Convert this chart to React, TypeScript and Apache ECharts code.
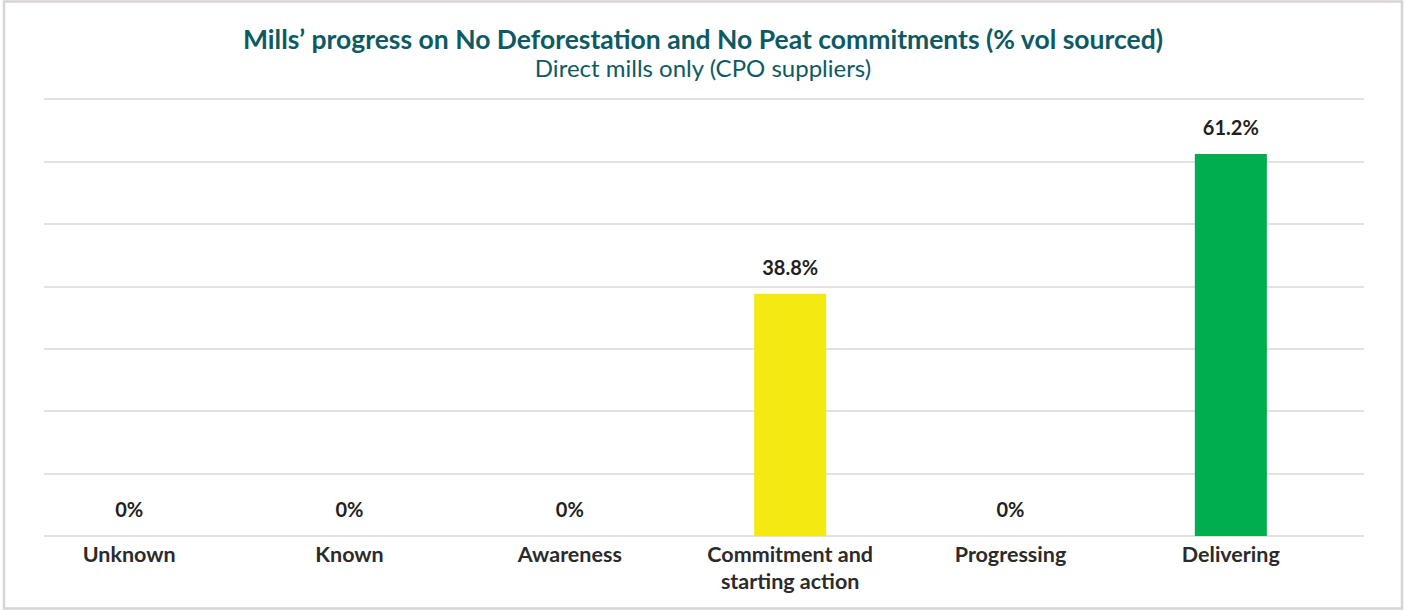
import React, { useEffect, useRef } from "react";
import * as echarts from "echarts";

const categories = ["Unknown", "Known", "Awareness", "Commitment and starting action", "Progressing", "Delivering"];
const values = [0, 0, 0, 38.8, 0, 61.2];
const barColors = ["#f5e912", "#f5e912", "#f5e912", "#f5e912", "#f5e912", "#00ad4f"];
const titleText = "Mills\u2019 progress on No Deforestation and No Peat commitments (% vol sourced)";
const subtitleText = "Direct mills only (CPO suppliers)";

export default function App() {
  const ref = useRef<HTMLDivElement>(null);
  useEffect(() => {
    if (!ref.current) return;
    const chart = echarts.init(ref.current, null, { renderer: "svg" });
    const teal = "#0e5a63";
    chart.setOption({
      animation: false,
      backgroundColor: "#ffffff",
      textStyle: { fontFamily: "Lato" },
      title: {
        text: titleText,
        subtext: subtitleText,
        left: "center",
        top: 20,
        itemGap: 3,
        textStyle: { fontFamily: "Lato", fontSize: 26.5, fontWeight: "bold", color: teal },
        subtextStyle: { fontFamily: "Lato", fontSize: 24, color: teal },
      },
      graphic: [
        {
          type: "rect",
          shape: { x: 4, y: 1.5, width: 1398, height: 607 },
          style: { fill: "none", stroke: "#d8d4d2", lineWidth: 2.5 },
          silent: true,
        },
      ],
      grid: [
        { left: 44, right: 42, top: 99, height: 437 },
        { left: 19, width: 1322, top: 99, height: 437 },
      ],
      xAxis: [
        { type: "category", gridIndex: 0, data: categories, show: false },
        {
          type: "category",
          gridIndex: 1,
          data: categories,
          axisLine: { show: false },
          axisTick: { show: false },
          axisLabel: {
            interval: 0,
            margin: 4,
            fontFamily: "Lato",
            fontSize: 21.5,
            fontWeight: "bold",
            color: "#2b2b2b",
            lineHeight: 27,
            formatter: (v: string) => v.replace(" and ", " and\n"),
          },
        },
      ],
      yAxis: [
        {
          type: "value",
          gridIndex: 0,
          min: 0,
          max: 70,
          interval: 10,
          axisLabel: { show: false },
          axisLine: { show: false },
          axisTick: { show: false },
          splitLine: { show: true, lineStyle: { color: "#d9d9d9", width: 1.5 } },
        },
        {
          type: "value",
          gridIndex: 1,
          min: 0,
          max: 70,
          interval: 10,
          show: false,
          splitLine: { show: false },
        },
      ],
      series: [
        {
          type: "bar",
          xAxisIndex: 1,
          yAxisIndex: 1,
          barWidth: 72,
          data: values.map((v, i) => ({ value: v, itemStyle: { color: barColors[i] } })),
          label: {
            show: true,
            position: "top",
            distance: 17,
            fontFamily: "Lato",
            fontSize: 20,
            fontWeight: "bold",
            color: "#1f1f1f",
            formatter: (p: any) => (p.value === 0 ? "0%" : p.value.toFixed(1) + "%"),
          },
        },
      ],
    });
    return () => chart.dispose();
  }, []);
  return (
    <div style={{ position: "absolute", left: 0, top: 0, width: 1406, height: 610, background: "#fff" }}>
      <div ref={ref} style={{ width: 1406, height: 610 }} />
    </div>
  );
}
